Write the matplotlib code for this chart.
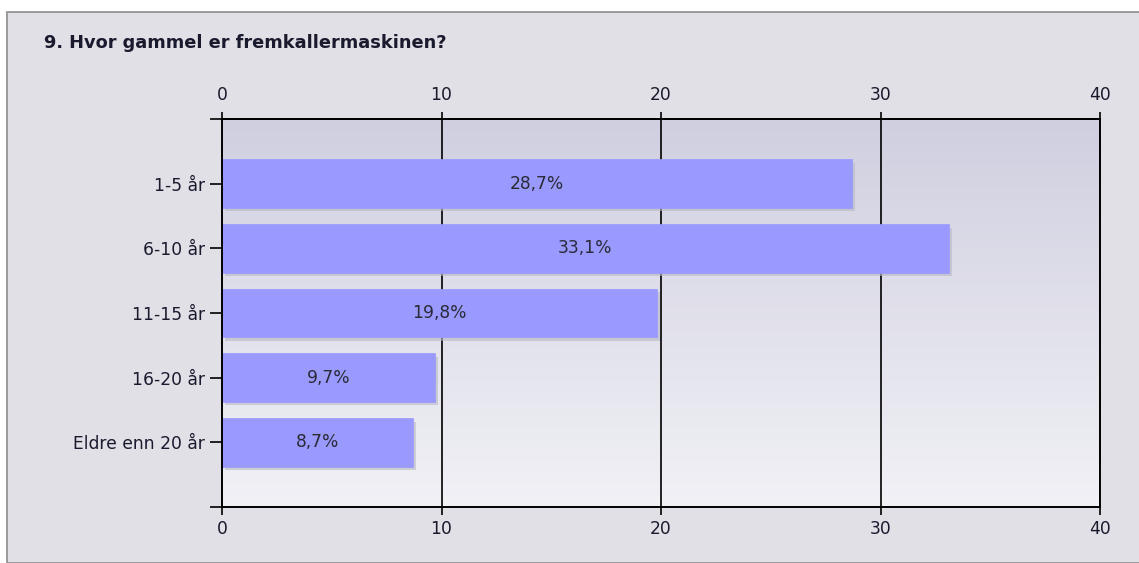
import matplotlib.pyplot as plt
import matplotlib.patheffects as pe
import numpy as np
from matplotlib.patches import Rectangle

categories = ['1-5 år', '6-10 år', '11-15 år', '16-20 år', 'Eldre enn 20 år']
values = [28.7, 33.1, 19.8, 9.7, 8.7]
labels = ['28,7%', '33,1%', '19,8%', '9,7%', '8,7%']
xticks = [0, 10, 20, 30, 40]
title = '9. Hvor gammel er fremkallermaskinen?'

plt.rcParams['font.family'] = ['DejaVu Sans']
FS = 12.3

fig = plt.figure(figsize=(11.39, 5.63), dpi=100)
fig.patch.set_facecolor('white')

# outer grey panel with border
panel = Rectangle((7 / 1139, 0), 1 - 7 / 1139 + 0.01, 1 - 12 / 563,
                  transform=fig.transFigure, facecolor='#e1e0e6',
                  edgecolor='#8c8c8c', linewidth=1.2, zorder=-5)
fig.patches.append(panel)

fig.text(44 / 1139, 1 - 43 / 563, title, fontsize=12.8, fontweight='bold',
         color='#1a1a2e', va='center', ha='left')

ax = fig.add_axes([222 / 1139, 1 - 507 / 563, 878 / 1139, 388 / 563])

# gradient background of plot area
grad = np.linspace(0, 1, 256).reshape(-1, 1)
top = np.array([0.815, 0.812, 0.878])
bot = np.array([0.945, 0.945, 0.965])
img = top + (bot - top) * grad[:, :, None] * np.ones((1, 2, 1))
ax.imshow(img, extent=[0, 40, 5, -1], aspect='auto', zorder=0)

y = np.arange(len(categories))
for xv in xticks[1:]:
    ax.axvline(xv, color='black', linewidth=1.2, zorder=1)

bars = ax.barh(y, values, height=0.75, color='#9999ff', zorder=2,
               edgecolor='#9999ff', linewidth=0.5)
for b in bars:
    b.set_path_effects([pe.SimplePatchShadow(offset=(2.5, -2.5), shadow_rgbFace='#b8b8c4', alpha=0.6),
                        pe.Normal()])

for yi, v, lab in zip(y, values, labels):
    ax.text(v / 2, yi, lab, ha='center', va='center', fontsize=FS,
            color='#2a2a3a', zorder=3)

ax.set_xlim(0, 40)
ax.set_ylim(5, -1)
ax.set_yticks([-1] + list(y) + [5])
ax.set_yticklabels([''] + categories + [''], fontsize=FS, color='#1a1a2e')
ax.set_xticks(xticks)
ax.set_xticklabels([str(t) for t in xticks], fontsize=FS, color='#1a1a2e')
ax.tick_params(axis='x', length=6, width=1.2, direction='out', pad=3.5)
ax.tick_params(axis='y', length=8.6, width=1.2, direction='out', pad=3.5)

secax = ax.secondary_xaxis('top')
secax.set_xticks(xticks)
secax.set_xticklabels([str(t) for t in xticks], fontsize=FS, color='#1a1a2e')
secax.tick_params(length=5, width=1.2, direction='out', pad=6)
secax.spines['top'].set_linewidth(1.4)

for s in ax.spines.values():
    s.set_color('black')
    s.set_linewidth(1.4)
    s.set_zorder(4)

fig.savefig('out.png', dpi=100)
